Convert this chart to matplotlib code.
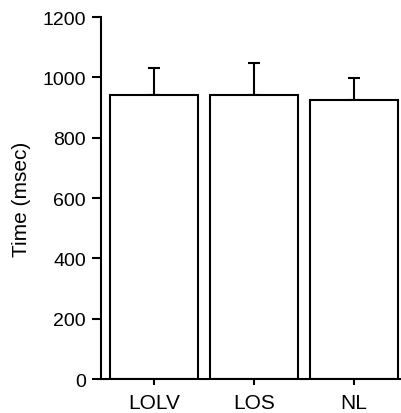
import matplotlib
matplotlib.use("Agg")
import matplotlib.pyplot as plt

categories = ["LOLV", "LOS", "NL"]
means = [940, 940, 925]
errors_up = [91, 106, 72]
yticks = [0, 200, 400, 600, 800, 1000, 1200]

plt.rcParams['font.family'] = ['Liberation Sans', 'DejaVu Sans']

fig = plt.figure(figsize=(4.01, 4.14), dpi=100)
ax = fig.add_axes([0.252, 0.082, 0.746, 0.8745])

x = list(range(len(categories)))
ax.bar(x, means, width=0.88, color='white', edgecolor='black', linewidth=1.5, zorder=2)
ax.errorbar(x, means, yerr=[[0]*len(means), errors_up], fmt='none', ecolor='black',
            elinewidth=1.5, capsize=4, capthick=1.5, zorder=1)

ax.set_xlim(-0.53, 2.46)
ax.set_ylim(0, 1200)
ax.set_yticks(yticks)
ax.set_xticks(x)
ax.set_xticklabels(categories)
ax.spines['top'].set_visible(False)
ax.spines['right'].set_visible(False)
ax.spines['left'].set_linewidth(1.5)
ax.spines['bottom'].set_linewidth(1.5)
ax.tick_params(axis='y', width=1.5, length=6.5, labelsize=14, pad=4.5)
ax.tick_params(axis='x', width=1.5, length=4, labelsize=15, pad=6)
ax.set_ylabel("Time (msec)", fontsize=15, labelpad=8)

fig.savefig("out.png", dpi=100)
